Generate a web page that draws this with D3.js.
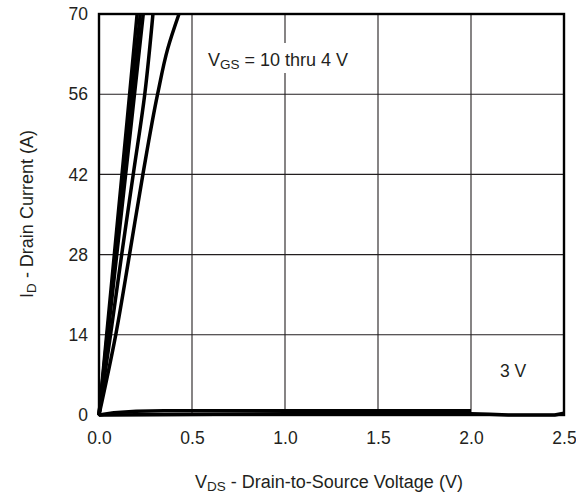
<!DOCTYPE html>
<html>
<head>
<meta charset="utf-8">
<script src="https://cdn.jsdelivr.net/npm/d3@7"></script>
<style>
  body { margin: 0; background: #fff; }
  text { font-family: "Liberation Sans", Arial, sans-serif; fill: #231f20; }
</style>
</head>
<body>
<svg id="chart"></svg>
<script>
// tick values
const xTicks = [0, 0.5, 1.0, 1.5, 2.0, 2.5];
const yTicks = [0, 14, 28, 42, 56, 70];

// output curves, VDS (V) / ID (A)
const vgs10 = [[0, 0], [0.05, 17], [0.1, 34], [0.15, 51], [0.205, 70]];
const vgs8 = [[0, 0], [0.054, 17], [0.108, 34], [0.162, 51], [0.222, 70]];
const vgs6 = [[0, 0], [0.058, 17], [0.116, 34], [0.174, 51], [0.238, 70]];
const vgs5 = [[0, 0], [0.062, 14], [0.122, 28], [0.184, 42], [0.246, 56], [0.29, 70]];
const vgs4 = [[0, 0], [0.09, 14], [0.164, 28], [0.236, 42], [0.315, 56], [0.37, 64], [0.43, 70]];
const vgs3 = [[0, 0], [0.08, 0.4], [0.2, 0.65], [0.35, 0.75], [1.0, 0.75], [2.0, 0.75]];
const vgsLow = [[0, 0], [1.0, 0.2], [2.0, 0.2], [2.1, 0.15], [2.2, 0.0], [2.45, 0.0], [2.5, 0.3]];

const steepCurves = [vgs10, vgs8, vgs6, vgs5, vgs4];
const flatCurves = [vgs3, vgsLow];

const width = 576, height = 496;
const svg = d3.select("#chart").attr("width", width).attr("height", height);

const x = d3.scaleLinear().domain([0, 2.5]).range([99, 564]);
const y = d3.scaleLinear().domain([0, 70]).range([415, 14]);

// grid
svg.append("g")
    .selectAll("line")
    .data(xTicks.slice(1, -1))
    .enter()
    .append("line")
    .attr("x1", d => x(d)).attr("x2", d => x(d))
    .attr("y1", y(0)).attr("y2", y(70))
    .attr("stroke", "#231f20")
    .attr("stroke-width", 1.1);

svg.append("g")
    .selectAll("line")
    .data(yTicks.slice(1, -1))
    .enter()
    .append("line")
    .attr("x1", x(0)).attr("x2", x(2.5))
    .attr("y1", d => y(d)).attr("y2", d => y(d))
    .attr("stroke", "#231f20")
    .attr("stroke-width", 1.1);

// label box covering the grid
svg.append("rect")
    .attr("x", 198).attr("y", 43)
    .attr("width", 172).attr("height", 30)
    .attr("fill", "#fff");

// frame
svg.append("rect")
    .attr("x", x(0)).attr("y", y(70))
    .attr("width", x(2.5) - x(0))
    .attr("height", y(0) - y(70))
    .attr("fill", "none")
    .attr("stroke", "#000")
    .attr("stroke-width", 2.4);

// curves
const steepLine = d3.line()
    .x(d => x(d[0]))
    .y(d => y(d[1]))
    .curve(d3.curveMonotoneY);

const flatLine = d3.line()
    .x(d => x(d[0]))
    .y(d => y(d[1]));

const curveG = svg.append("g")
    .attr("fill", "none")
    .attr("stroke", "#000")
    .attr("stroke-width", 3.5)
    .attr("stroke-linejoin", "round");

curveG.selectAll("path.steep")
    .data(steepCurves)
    .enter()
    .append("path")
    .attr("class", "steep")
    .attr("d", steepLine);

curveG.selectAll("path.flat")
    .data(flatCurves)
    .enter()
    .append("path")
    .attr("class", "flat")
    .attr("d", flatLine);

// axes
const xAxis = d3.axisBottom(x).tickValues(xTicks).tickFormat(d3.format(".1f")).tickSize(0).tickPadding(17);
const yAxis = d3.axisLeft(y).tickValues(yTicks).tickFormat(d3.format("d")).tickSize(0).tickPadding(11);

svg.append("g")
    .attr("transform", `translate(0,${y(0)})`)
    .call(xAxis)
    .call(g => g.select(".domain").remove())
    .selectAll("text")
    .attr("font-size", 17.5)
    .attr("font-family", "Liberation Sans, Arial, sans-serif")
    .attr("fill", "#231f20");

svg.append("g")
    .attr("transform", `translate(${x(0)},0)`)
    .call(yAxis)
    .call(g => g.select(".domain").remove())
    .selectAll("text")
    .attr("font-size", 17.5)
    .attr("font-family", "Liberation Sans, Arial, sans-serif")
    .attr("fill", "#231f20");

// labels
function subLabel(sel, main, sub, rest) {
    sel.append("tspan").text(main);
    sel.append("tspan").attr("font-size", 13.5).attr("dy", 3).text(sub);
    sel.append("tspan").attr("dy", -3).text(rest);
}

const vgsLabel = svg.append("text")
    .attr("x", 208).attr("y", 66)
    .attr("font-size", 18);
subLabel(vgsLabel, "V", "GS", " = 10 thru 4 V");

svg.append("text")
    .attr("x", 500).attr("y", 377)
    .attr("font-size", 17.5)
    .text("3 V");

const xTitle = svg.append("text")
    .attr("x", 195).attr("y", 488)
    .attr("font-size", 18);
subLabel(xTitle, "V", "DS", " - Drain-to-Source Voltage (V)");

const yTitle = svg.append("text")
    .attr("transform", "translate(33,214) rotate(-90)")
    .attr("text-anchor", "middle")
    .attr("font-size", 18);
subLabel(yTitle, "I", "D", " - Drain Current (A)");
</script>
</body>
</html>
